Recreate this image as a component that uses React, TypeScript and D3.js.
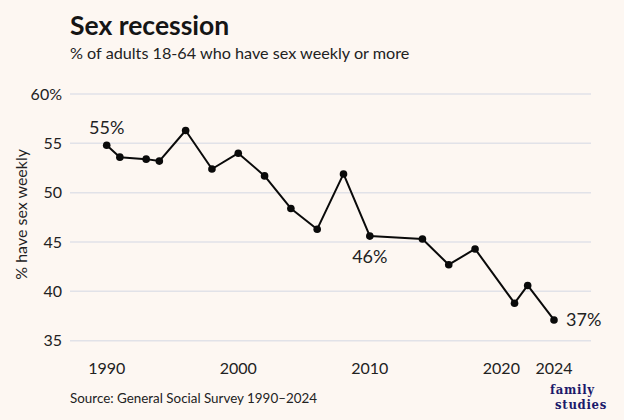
import React from 'react';
import { scaleLinear, line } from 'd3';

const years = [1990, 1991, 1993, 1994, 1996, 1998, 2000, 2002, 2004, 2006, 2008, 2010, 2014, 2016, 2018, 2021, 2022, 2024];
const weeklyPct = [54.8, 53.6, 53.4, 53.2, 56.3, 52.4, 54.0, 51.7, 48.4, 46.3, 51.9, 45.6, 45.3, 42.7, 44.3, 38.8, 40.6, 37.1];
const yTicks = [35, 40, 45, 50, 55, 60];
const xTicks = [1990, 2000, 2010, 2020, 2024];
// annotated points: [year, label, placement]
const callouts: Array<[number, string, 'above' | 'below' | 'right']> = [
    [1990, '55%', 'above'],
    [2010, '46%', 'below'],
    [2024, '37%', 'right'],
];

const App = () => {
    let svgWidth = 624;
    let svgHeight = 420;
    let font = 'Lato, "Noto Sans", sans-serif';
    let textColor = '#222';

    let x = scaleLinear().domain([1990, 2024]).range([106.7, 554]);
    let y = scaleLinear().domain([35, 60]).range([340.7, 94]);

    let pts: Array<[number, number]> = years.map((yr, i) => [yr, weeklyPct[i]]);
    let linefunc = line<[number, number]>().x(d => x(d[0])).y(d => y(d[1]));

    return (
        <div style={{ position: 'absolute', left: 0, top: 0 }}>
            <svg width={svgWidth} height={svgHeight} style={{ display: 'block', background: '#fdf7f2' }}>
                <rect width={svgWidth} height={svgHeight} fill='#fdf7f2' />
                <text x={70} y={35} fontFamily={font} fontWeight={700} fontSize={26.5} fill='#151515'>Sex recession</text>
                <text x={70} y={58.5} fontFamily={font} fontSize={16.2} fill={textColor}>% of adults 18-64 who have sex weekly or more</text>

                <g>
                    {yTicks.map(t => (
                        <g key={t}>
                            <line x1={70} x2={591} y1={y(t)} y2={y(t)} stroke='#e1e2e8' strokeWidth={1.5} />
                            <text x={62} y={y(t)} dy='0.36em' textAnchor='end' fontFamily={font} fontSize={16} fill={textColor}>
                                {t === 60 ? '60%' : t}
                            </text>
                        </g>
                    ))}
                </g>
                <text transform={`translate(27,${y(47.8)}) rotate(-90)`} textAnchor='middle' fontFamily={font} fontSize={16} fill={textColor}>% have sex weekly</text>

                <g>
                    {xTicks.map(t => (
                        <text key={t} x={x(t)} y={374} textAnchor='middle' fontFamily={font} fontSize={16} fill={textColor}>{t}</text>
                    ))}
                </g>

                <path d={linefunc(pts) ?? ''} fill='none' stroke='#0a0a0a' strokeWidth={2} strokeLinejoin='round' />
                {pts.map(d => (
                    <circle key={d[0]} cx={x(d[0])} cy={y(d[1])} r={3.8} fill='#0a0a0a' />
                ))}

                {callouts.map(([yr, label, pos]) => {
                    let i = years.indexOf(yr);
                    let cx = x(yr);
                    let cy = y(weeklyPct[i]);
                    if (pos === 'above') return <text key={yr} x={cx} y={cy - 11} textAnchor='middle' fontFamily={font} fontSize={18} fill={textColor}>{label}</text>;
                    if (pos === 'below') return <text key={yr} x={cx} y={cy + 27} textAnchor='middle' fontFamily={font} fontSize={18} fill={textColor}>{label}</text>;
                    return <text key={yr} x={cx + 12} y={cy} dy='0.36em' fontFamily={font} fontSize={18} fill={textColor}>{label}</text>;
                })}

                <text x={70} y={403.3} fontFamily={font} fontSize={13.4} fill={textColor}>Source: General Social Survey 1990–2024</text>

                {/* logo */}
                <g fontFamily='"DejaVu Serif Condensed", "DejaVu Serif", serif' fontWeight={700} fontSize={13} fill='#1c1a6b' letterSpacing={0.7}>
                    <text x={550} y={393.5}>family</text>
                    <text x={555} y={409}>studies</text>
                </g>
            </svg>
        </div>
    );
}

export default App;
